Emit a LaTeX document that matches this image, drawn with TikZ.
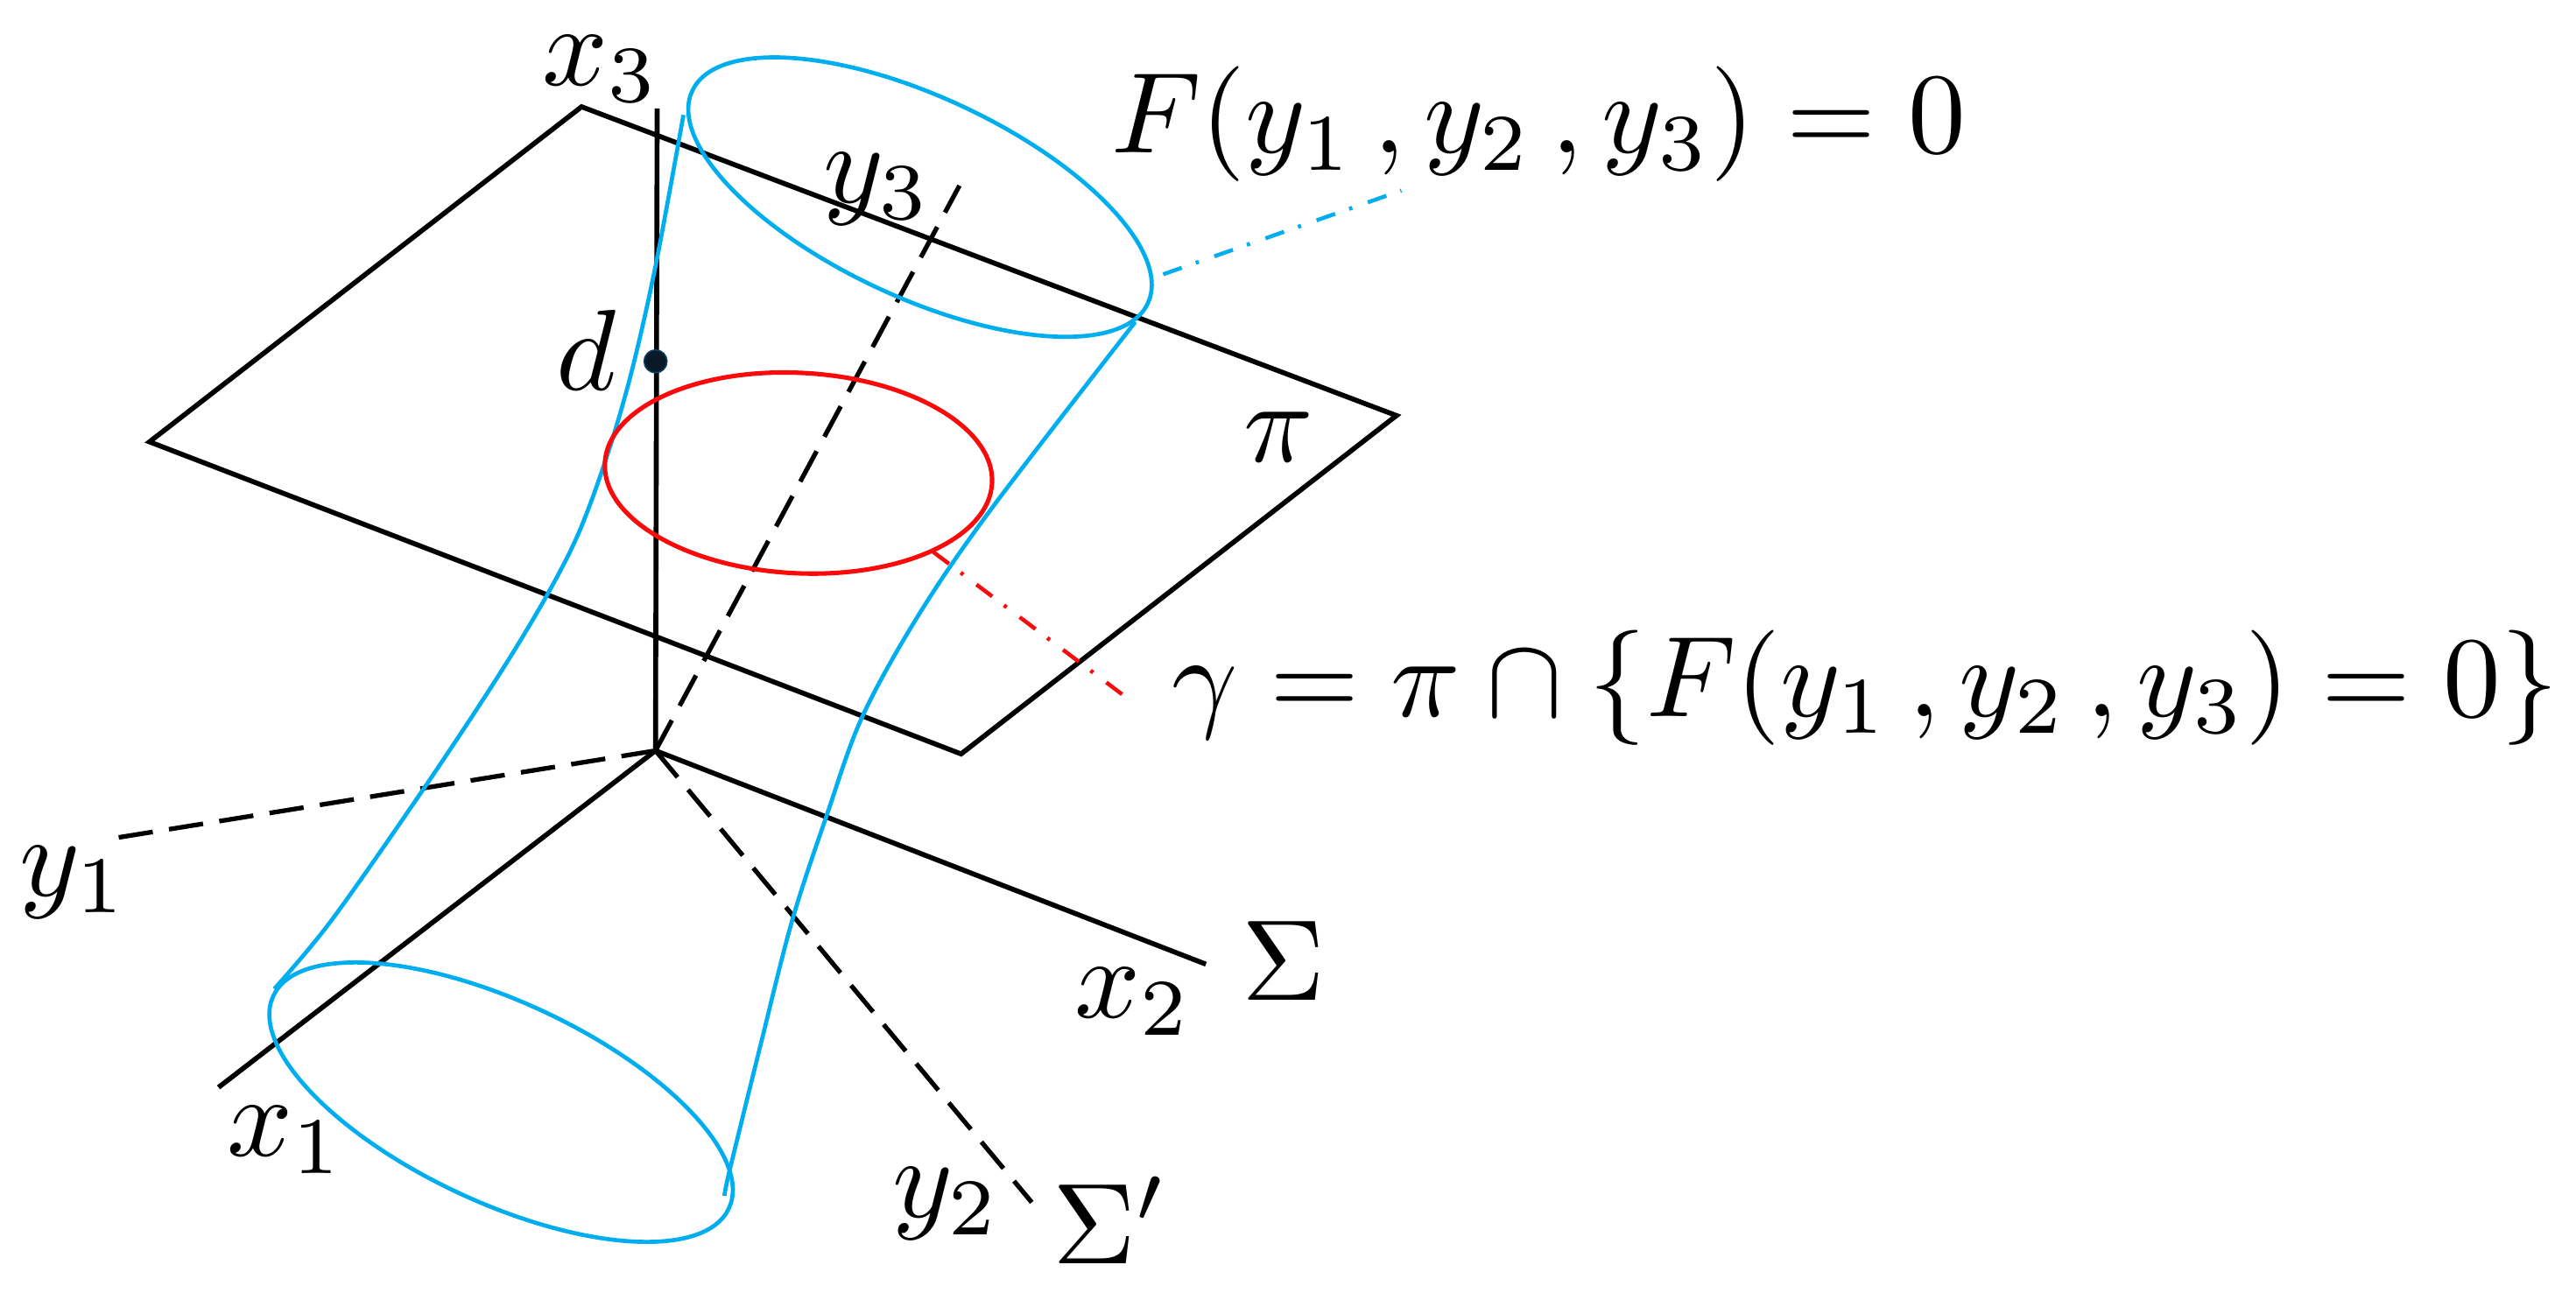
\documentclass[tikz,border=0pt]{standalone}
\definecolor{cyanb}{RGB}{0,174,239}
\definecolor{redc}{RGB}{250,10,10}
\definecolor{dotc}{RGB}{10,25,40}
\begin{document}
\begin{tikzpicture}[x=0.1pt,y=-0.1pt,
  ax/.style={line width=0.3pt, black},
  dax/.style={line width=0.28pt, black, dash pattern=on 2.1pt off 1.0pt},
  surf/.style={line width=0.25pt, cyanb},
  lead/.style={line width=0.24pt, dash pattern=on 1.2pt off 0.9pt on 0.2pt off 1pt},
  lbl/.style={font=\fontsize{10}{12}\selectfont, inner sep=0pt, scale=0.70, transform shape},
]
\useasboundingbox (0,0) rectangle (1568,787);
% coordinates
\coordinate (O) at (399,457);
\coordinate (X3) at (400,66);
\coordinate (X1) at (133,662);
\coordinate (X2) at (734,587);
\coordinate (Y1) at (65,511);
\coordinate (Y2) at (628,732);
\coordinate (Y3) at (584,113);
\coordinate (PT) at (354,65);
\coordinate (PR) at (850,253);
\coordinate (PB) at (585,459);
\coordinate (PL) at (91,269);
% plane
\draw[ax] (PT) -- (PR) -- (PB) -- (PL) -- cycle;
% axes
\draw[ax] (O) -- (X3);
\draw[ax] (O) -- (X1);
\draw[ax] (O) -- (X2);
\draw[dax] (O) -- (Y1);
\draw[dax] (O) -- (Y2);
\draw[dax] (O) -- (Y3);
% surface
\draw[surf, rotate around={-25:(560,120)}] (560,120) ellipse[x radius=15.3pt, y radius=6.1pt];
\draw[surf, rotate around={-25:(305,671)}] (305,671) ellipse[x radius=15.3pt, y radius=6.1pt];
\draw[surf] plot[smooth, tension=0.55] coordinates {(416,70) (399,162) (384,228) (369,279) (352,325) (332,364) (303,412) (258,480) (202,560) (167,602)};
\draw[surf] plot[smooth, tension=0.55] coordinates {(691,196) (604,309) (560,373) (525,436) (503,497) (482,561) (462,640) (444,713) (441,728)};
% red curve
\draw[redc, line width=0.27pt, rotate around={-3:(486,288)}] (486,288) ellipse[x radius=11.8pt, y radius=6.1pt];
% point d
\node[circle, fill=dotc, draw=dotc!70!cyanb, line width=0.08pt, inner sep=0pt, minimum size=1.4pt] (dpt) at (399,220) {};
% leaders
\coordinate (Ls) at (708,167);
\coordinate (Le) at (853,116);
\coordinate (Rs) at (568,336);
\coordinate (Re) at (690,428);
\draw[lead, cyanb] (Ls) -- (Le);
\draw[lead, redc] (Rs) -- (Re);
% labels
\node[lbl] (lx3) at (366,42) {$x_3$};
\node[lbl] (ly3) at (534,115) {$y_3$};
\node[lbl] (ld) at (357,213) {$d$};
\node[lbl] (lpi) at (778,266) {$\pi$};
\node[lbl] (lx1) at (174,694) {$x_1$};
\node[lbl] (lx2) at (690,610) {$x_2$};
\node[lbl] (lS) at (781,585) {$\Sigma$};
\node[lbl] (ly1) at (45,537) {$y_1$};
\node[lbl] (ly2) at (576,733) {$y_2$};
\node[lbl] (lSp) at (676,743) {$\Sigma'$};
\node[lbl, anchor=base west] (lF) at (675,93) {$F(y_1\,, y_2\,, y_3)=0$};
\node[lbl, anchor=base west] (lg) at (712,436) {$\gamma=\pi\cap\{F(y_1\,, y_2\,, y_3)=0\}$};
\end{tikzpicture}
\end{document}
